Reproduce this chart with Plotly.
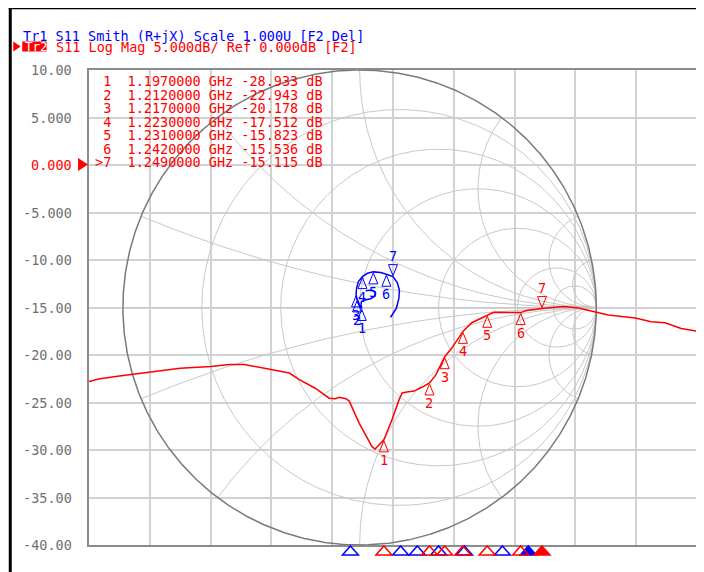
import numpy as np
import plotly.graph_objects as go

# ---------------- data ----------------
# Tr2: S11 Log Mag (frequency in GHz, value in dB)
freq_ghz = [1.1000, 1.1036, 1.1100, 1.1200, 1.1300, 1.1400, 1.1462, 1.1511, 1.1561, 1.1600,
            1.1659, 1.1692, 1.1744, 1.1790, 1.1810, 1.1823, 1.1845, 1.1856, 1.1889, 1.1931,
            1.1941, 1.1970, 1.1997, 1.2020, 1.2030, 1.2046, 1.2069, 1.2095, 1.2120, 1.2141,
            1.2161, 1.2170, 1.2193, 1.2230, 1.2259, 1.2311, 1.2331, 1.2420, 1.2436, 1.2490,
            1.2521, 1.2561, 1.2610, 1.2666, 1.2708, 1.2797, 1.2849, 1.2895, 1.2948, 1.3000]
s11_db = [-22.8, -22.5, -22.2, -21.8, -21.4, -21.2, -21.0, -21.0, -21.3, -21.6,
          -21.9, -22.6, -23.5, -24.55, -24.6, -24.45, -24.6, -24.85, -27.2, -29.65,
          -29.9, -28.933, -26.8, -24.7, -24.0, -23.9, -23.8, -23.4, -22.943, -22.1,
          -20.7, -20.178, -19.3, -17.512, -16.6, -15.823, -15.5, -15.536, -15.35, -15.115,
          -15.0, -14.9, -15.05, -15.5, -15.8, -16.1, -16.5, -16.6, -17.2, -17.5]

marker_ids = [1, 2, 3, 4, 5, 6, 7]
marker_freq = [1.197, 1.212, 1.217, 1.223, 1.231, 1.242, 1.249]
marker_db = [-28.933, -22.943, -20.178, -17.512, -15.823, -15.536, -15.115]
active_marker = 7

# Tr1: S11 Smith trace (reflection coefficient, real / imaginary)
smith_re = [0.026, 0.051, 0.065, 0.065, 0.047, 0.023, 0.008, 0.006, 0.009, -0.002,
            -0.011, -0.015, -0.013, -0.005, 0.012, 0.033, 0.058, 0.089, 0.113, 0.141,
            0.159, 0.168, 0.166, 0.155, 0.131]
smith_im = [0.071, 0.074, 0.064, 0.048, 0.037, 0.032, 0.025, 0.011, -0.004, 0.011,
            0.032, 0.053, 0.081, 0.109, 0.130, 0.144, 0.150, 0.147, 0.140, 0.130,
            0.105, 0.074, 0.039, -0.004, -0.041]
smith_marker_idx = [8, 10, 11, 14, 16, 18, 19]
tr1_marker_freq = [1.186, 1.2025, 1.208, 1.215, 1.2235, 1.236, 1.2445]

ytick_vals = [10, 5, 0, -5, -10, -15, -20, -25, -30, -35, -40]
ytick_text = ["10.00", "5.000", "0.000", "-5.000", "-10.00", "-15.00",
              "-20.00", "-25.00", "-30.00", "-35.00", "-40.00"]
smith_r_grid = [0.2, 0.5, 1, 2, 5, 10]
smith_x_grid = [0.2, 0.5, 1, 2, 5, 10]

header1 = "Tr1 S11 Smith (R+jX) Scale 1.000U [F2 Del]"
header2 = "S11 Log Mag 5.000dB/ Ref 0.000dB [F2]"

# ---------------- layout constants ----------------
OFF = 8  # page body margin of the browser
W, H = 704 - OFF, 572 - OFF
PL, PR, PT, PB = 89, 699, 70, 545  # plot area in screen pixels
RED = "#ff0000"
BLUE = "#0000ff"
GRID = "#d2d2d2"
MONO = "DejaVu Sans Mono"
FS = 13.5


def px(xp):
    return (xp - PL) / (PR - PL)


def py(yp):
    return (PB - yp) / (PB - PT)


unit = (PB - PT) / 2.0
cx = 360.5
smith_xr = [-(cx - PL) / unit, (PR - cx) / unit]

fig = go.Figure()

# ---------------- Smith grid ----------------
def gam(z):
    return (z - 1) / (z + 1)

gx, gy = [], []
t = np.linspace(-np.pi / 2 + 1e-4, np.pi / 2 - 1e-4, 900)
for r in smith_r_grid:
    g = gam(r + 1j * np.tan(t))
    gx += list(g.real) + [None]
    gy += list(g.imag) + [None]
s = np.linspace(0, np.pi / 2 - 1e-4, 700)
for xv in smith_x_grid:
    for sg in (1, -1):
        g = gam(np.tan(s) + 1j * sg * xv)
        gx += list(g.real) + [None]
        gy += list(g.imag) + [None]
gx += [-1, 1, None]
gy += [0, 0, None]
fig.add_trace(go.Scatter(x=gx, y=gy, mode="lines", line=dict(color="#c8c8c8", width=1),
                         hoverinfo="skip", xaxis="x", yaxis="y"))
th = np.linspace(0, 2 * np.pi, 721)
fig.add_trace(go.Scatter(x=np.cos(th), y=np.sin(th), mode="lines",
                         line=dict(color="#7a7a7a", width=1.5), hoverinfo="skip",
                         xaxis="x", yaxis="y"))

# Tr1 smith trace
fig.add_trace(go.Scatter(x=smith_re, y=smith_im, mode="lines",
                         line=dict(color=BLUE, width=1.5), xaxis="x", yaxis="y"))

# Tr2 log mag trace
fig.add_trace(go.Scatter(x=freq_ghz, y=s11_db, mode="lines",
                         line=dict(color=RED, width=1.5), xaxis="x2", yaxis="y2"))

shapes = []
annotations = []

UP = "M0,-1 L4.5,-12 L-4.5,-12 Z"
DOWN = "M0,1 L4.5,12 L-4.5,12 Z"


def marker_glyph(xref, yref, xv, yv, mid, color):
    active = (mid == active_marker)
    shapes.append(dict(type="path", xref=xref, yref=yref, xsizemode="pixel", ysizemode="pixel",
                       xanchor=xv, yanchor=yv, path=DOWN if active else UP,
                       line=dict(color=color, width=1)))
    annotations.append(dict(xref=xref, yref=yref, x=xv, y=yv, text=str(mid), showarrow=False,
                            yshift=21 if active else -20,
                            font=dict(family=MONO, size=FS, color=color)))


for mid, f, d in zip(marker_ids, marker_freq, marker_db):
    marker_glyph("x2", "y2", f, d, mid, RED)
for mid, i in zip(marker_ids, smith_marker_idx):
    marker_glyph("x", "y", smith_re[i], smith_im[i], mid, BLUE)

# bottom marker indicators
BOT = "M0,-1 L8,-10 L-8,-10 Z"
for mid, f in zip(marker_ids, tr1_marker_freq):
    act = (mid == active_marker)
    shapes.append(dict(type="path", xref="x2", yref="paper", xsizemode="pixel", ysizemode="pixel",
                       xanchor=f, yanchor=0, path=BOT, line=dict(color=BLUE, width=1.5),
                       fillcolor=BLUE if act else "rgba(0,0,0,0)"))
for mid, f in zip(marker_ids, marker_freq):
    act = (mid == active_marker)
    shapes.append(dict(type="path", xref="x2", yref="paper", xsizemode="pixel", ysizemode="pixel",
                       xanchor=f, yanchor=0, path=BOT, line=dict(color=RED, width=1.5),
                       fillcolor=RED if act else "rgba(0,0,0,0)"))

# marker table
for k, (mid, f, d) in enumerate(zip(marker_ids, marker_freq, marker_db)):
    lab = (">" if mid == active_marker else " ") + str(mid)
    row = f"{lab}  {f:.7f} GHz {d:.3f} dB".replace(" ", "\u00a0")
    annotations.append(dict(xref="paper", yref="paper", x=px(93), y=py(81 + 13.5 * k),
                            xanchor="left", yanchor="middle", text=row, showarrow=False,
                            font=dict(family=MONO, size=FS, color=RED)))

# y tick labels
for v, tx in zip(ytick_vals, ytick_text):
    annotations.append(dict(xref="paper", yref="y2", x=px(74), y=v, xanchor="right",
                            yanchor="middle", text=tx, showarrow=False,
                            font=dict(family=MONO, size=FS, color=RED if v == 0 else "#707070")))

# header
annotations.append(dict(xref="paper", yref="paper", x=px(21), y=py(36), xanchor="left",
                        yanchor="middle", text=header1.replace(" ", "\u00a0"), showarrow=False,
                        font=dict(family=MONO, size=FS, color=BLUE)))
shapes.append(dict(type="rect", xref="paper", yref="paper", x0=px(22), x1=px(46.5),
                   y0=py(51.5), y1=py(41.5), line=dict(width=0), fillcolor=RED))
annotations.append(dict(xref="paper", yref="paper", x=px(22.5), y=py(46.5), xanchor="left",
                        yanchor="middle", text="Tr2", showarrow=False,
                        font=dict(family=MONO, size=12.5, color="white")))
annotations.append(dict(xref="paper", yref="paper", x=px(54), y=py(47), xanchor="left",
                        yanchor="middle", text=header2.replace(" ", "\u00a0"), showarrow=False,
                        font=dict(family=MONO, size=FS, color=RED)))
annotations.append(dict(xref="paper", yref="paper", x=px(701), y=py(331), xanchor="left",
                        yanchor="middle", text="2", showarrow=False,
                        font=dict(family=MONO, size=FS, color=RED)))


def ppath(pts):
    return "M" + " L".join(f"{px(a):.5f},{py(b):.5f}" for a, b in pts) + " Z"

shapes.append(dict(type="path", xref="paper", yref="paper",
                   path=ppath([(13, 41.5), (20.5, 46.5), (13, 51.5)]),
                   line=dict(width=0), fillcolor=RED))
shapes.append(dict(type="path", xref="paper", yref="paper",
                   path=ppath([(78, 158), (88, 164.5), (78, 171)]),
                   line=dict(width=0), fillcolor=RED))
shapes.append(dict(type="path", xref="paper", yref="paper",
                   path=ppath([(701, 164.5), (708, 159.5), (708, 169.5)]),
                   line=dict(width=0), fillcolor=RED))
# screenshot black frame
shapes.append(dict(type="line", xref="paper", yref="paper", x0=px(10), x1=px(10),
                   y0=py(7), y1=py(575), line=dict(color="black", width=3)))
shapes.append(dict(type="line", xref="paper", yref="paper", x0=px(8.5), x1=px(710),
                   y0=py(8), y1=py(8), line=dict(color="black", width=2.5)))

fig.update_layout(
    width=W, height=H,
    margin=dict(l=PL - OFF, r=704 - PR, t=PT - OFF, b=572 - PB, pad=0),
    paper_bgcolor="white", plot_bgcolor="white", showlegend=False,
    xaxis=dict(range=smith_xr, visible=False, showgrid=False, zeroline=False),
    yaxis=dict(range=[-1, 1], visible=False, showgrid=False, zeroline=False),
    xaxis2=dict(range=[1.1, 1.3], overlaying="x", anchor="y2", side="bottom",
                tick0=1.1, dtick=0.02, showgrid=True, gridcolor=GRID, gridwidth=1.5,
                showticklabels=False, ticks="", zeroline=False,
                showline=True, mirror=True, linecolor="#8c8c8c", linewidth=2),
    yaxis2=dict(range=[-40, 10], overlaying="y", anchor="x2", side="left",
                tick0=-40, dtick=5, showgrid=True, gridcolor=GRID, gridwidth=1.5,
                showticklabels=False, ticks="", zeroline=False,
                showline=True, mirror=True, linecolor="#8c8c8c", linewidth=2),
    shapes=shapes, annotations=annotations,
)

fig.write_html("out.html")
